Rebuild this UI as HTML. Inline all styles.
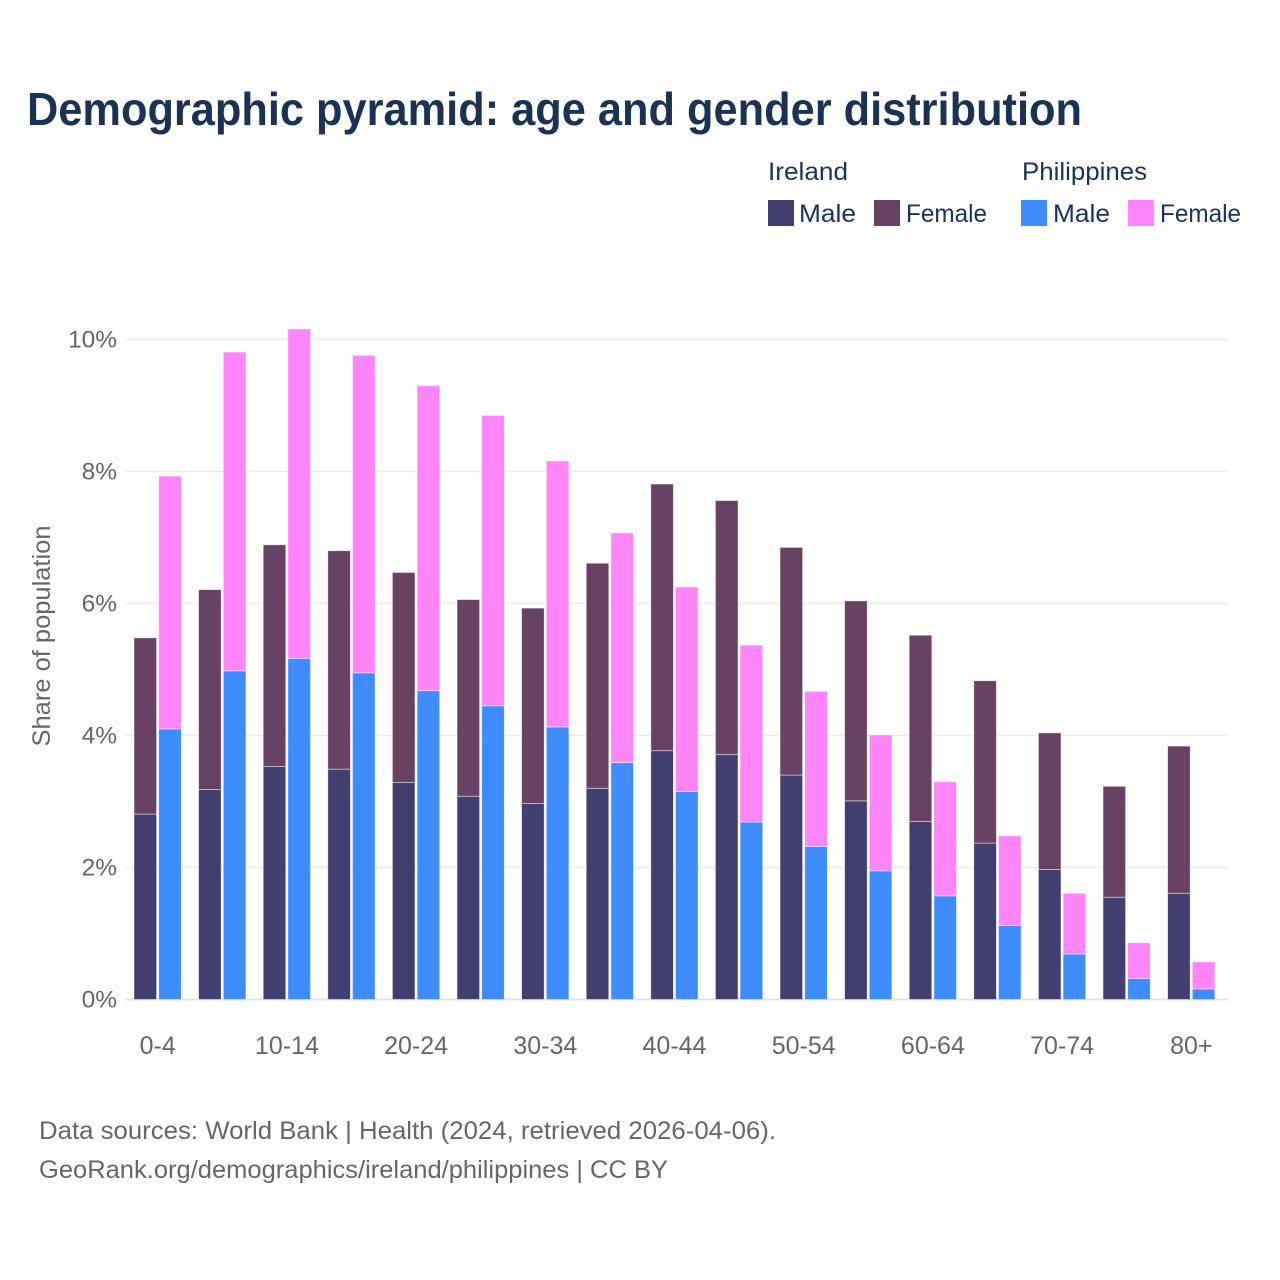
<!DOCTYPE html>
<html lang="en">
<head>
<meta charset="utf-8">
<title>Demographic pyramid: age and gender distribution</title>
<style>
html,body{margin:0;padding:0;background:#fff}
svg{display:block;font-family:"Liberation Sans",sans-serif}
</style>
</head>
<body>
<svg id="chart" width="1280" height="1280" viewBox="0 0 1280 1280" xmlns="http://www.w3.org/2000/svg">
  <rect width="1280" height="1280" fill="#fff"/>
  <text x="27" y="125" font-size="46" font-weight="700" fill="#1a3355" textLength="1055" lengthAdjust="spacingAndGlyphs">Demographic pyramid: age and gender distribution</text>

  <g font-size="25" fill="#1a3355">
    <text x="768" y="180" textLength="80" lengthAdjust="spacingAndGlyphs">Ireland</text>
    <text x="1022" y="180" textLength="125" lengthAdjust="spacingAndGlyphs">Philippines</text>
    <g>
      <rect x="768" y="200" width="26" height="26" fill="#423f70"/>
      <text x="799" y="222" textLength="57" lengthAdjust="spacingAndGlyphs">Male</text>
    </g>
    <g>
      <rect x="874" y="200" width="26" height="26" fill="#674262"/>
      <text x="906" y="222" textLength="81" lengthAdjust="spacingAndGlyphs">Female</text>
    </g>
    <g>
      <rect x="1021" y="200" width="26" height="26" fill="#3f8cff"/>
      <text x="1053" y="222" textLength="57" lengthAdjust="spacingAndGlyphs">Male</text>
    </g>
    <g>
      <rect x="1128" y="200" width="26" height="26" fill="#ff85f8"/>
      <text x="1160" y="222" textLength="81" lengthAdjust="spacingAndGlyphs">Female</text>
    </g>
  </g>

  <g id="grid"></g>
  <g id="bars"></g>
  <g id="y-axis"></g>
  <g id="x-axis"></g>

  <text transform="translate(50 636) rotate(-90)" text-anchor="middle" font-size="25" fill="#666" textLength="221" lengthAdjust="spacingAndGlyphs">Share of population</text>

  <g font-size="25" fill="#666">
    <text x="39" y="1139" textLength="737" lengthAdjust="spacingAndGlyphs">Data sources: World Bank | Health (2024, retrieved 2026-04-06).</text>
    <text x="39" y="1178" textLength="629" lengthAdjust="spacingAndGlyphs">GeoRank.org/demographics/ireland/philippines | CC BY</text>
  </g>
</svg>
<script>
const ageGroups = ["0-4","5-9","10-14","15-19","20-24","25-29","30-34","35-39","40-44","45-49","50-54","55-59","60-64","65-69","70-74","75-79","80+"];
const xTickLabels = ["0-4","10-14","20-24","30-34","40-44","50-54","60-64","70-74","80+"];
const yTicks = [0,2,4,6,8,10];
const irelandMale = [2.81,3.18,3.53,3.49,3.29,3.08,2.97,3.20,3.77,3.71,3.40,3.01,2.70,2.37,1.97,1.55,1.61];
const irelandFemale = [2.67,3.03,3.36,3.31,3.18,2.98,2.96,3.41,4.04,3.85,3.45,3.03,2.82,2.46,2.07,1.68,2.23];
const philippinesMale = [4.10,4.98,5.17,4.95,4.68,4.45,4.13,3.59,3.15,2.69,2.32,1.95,1.57,1.12,0.69,0.32,0.16];
const philippinesFemale = [3.83,4.83,4.99,4.81,4.62,4.40,4.03,3.48,3.10,2.68,2.35,2.06,1.73,1.36,0.92,0.54,0.41];

const NS = "http://www.w3.org/2000/svg";
const plotLeft = 125.5, plotRight = 1228, y0 = 999.5, pxPerUnit = 66;
const firstCenter = 157.7, groupStep = 64.6, barWidth = 22.6;

function yScale(v) { return y0 - v * pxPerUnit; }
function xCenter(i) { return firstCenter + i * groupStep; }

function make(tag, attrs, parent) {
  const el = document.createElementNS(NS, tag);
  for (const k in attrs) el.setAttribute(k, attrs[k]);
  parent.appendChild(el);
  return el;
}

const gridG = document.getElementById("grid");
const yAxisG = document.getElementById("y-axis");
yTicks.forEach(function (t) {
  const line = make("line", {x1: plotLeft, x2: plotRight, y1: yScale(t), y2: yScale(t), stroke: t === 0 ? "#e3e3e8" : "#ebebeb", "stroke-width": t === 0 ? 2 : 1.4}, gridG);
  
  
  const label = make("text", {x: 117, y: yScale(t) + 8, "text-anchor": "end", "font-size": 24.5, fill: "#666"}, yAxisG);
  
  
  label.textContent = t + "%";
});

const barsG = document.getElementById("bars");
function drawStack(male, female, offset, maleColor, femaleColor, country) {
  ageGroups.forEach(function (age, i) {
    const x = xCenter(i) + offset;
    const maleRect = make("rect", {x: x, y: yScale(male[i]), width: barWidth, height: y0 - yScale(male[i]), fill: maleColor, stroke: "#fff", "stroke-opacity": 0.6, "stroke-width": 0.8}, barsG);
    
    
    const top = male[i] + female[i];
    const femaleRect = make("rect", {x: x, y: yScale(top), width: barWidth, height: yScale(male[i]) - yScale(top), fill: femaleColor, stroke: "#fff", "stroke-opacity": 0.6, "stroke-width": 0.8}, barsG);
    
    
  });
}
drawStack(irelandMale, irelandFemale, -23.7, "#423f70", "#674262", "ireland");
drawStack(philippinesMale, philippinesFemale, 1, "#3f8cff", "#ff85f8", "philippines");

const xAxisG = document.getElementById("x-axis");
xTickLabels.forEach(function (lab) {
  const i = ageGroups.indexOf(lab);
  const label = make("text", {x: xCenter(i), y: 1054, "text-anchor": "middle", "font-size": 25, fill: "#666"}, xAxisG);
  
  
  label.textContent = lab;
});
</script>
</body>
</html>
